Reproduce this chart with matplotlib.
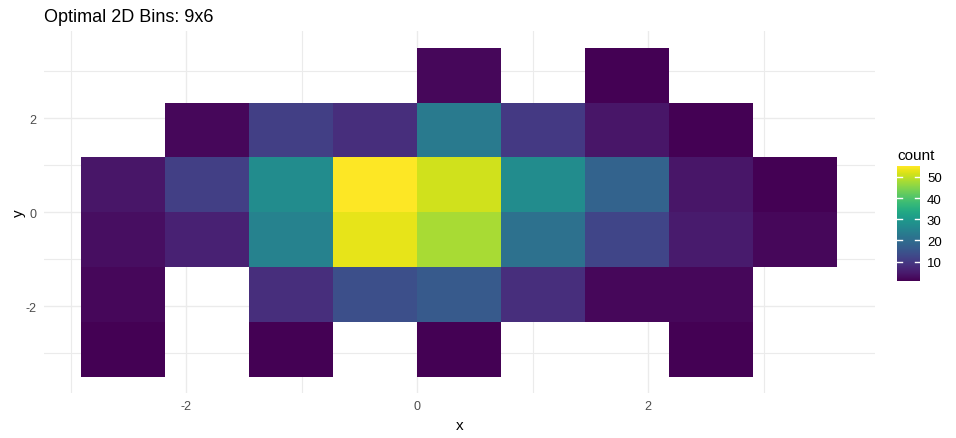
import numpy as np
import matplotlib
matplotlib.use("Agg")
import matplotlib.pyplot as plt

plt.rcParams['font.family'] = ['Liberation Sans', 'DejaVu Sans']
plt.rcParams['axes.unicode_minus'] = False

# bin edges (9 x 6 bins)
x_edges = [-2.909, -2.182, -1.455, -0.727, 0.0, 0.727, 1.455, 2.182, 2.909, 3.636]
y_edges = [-3.5, -2.333, -1.167, 0.0, 1.167, 2.333, 3.5]

# counts, rows from bottom (y) to top, columns left to right (x); 0 = empty
counts = [
    [1, 0, 1, 0, 1, 0, 0, 1, 0],
    [2, 0, 8, 14, 16, 8, 2, 2, 0],
    [3, 6, 25, 53, 48, 21, 12, 5, 2],
    [4, 11, 27, 55, 51, 27, 18, 4, 1],
    [0, 2, 11, 8, 23, 10, 4, 1, 0],
    [0, 0, 0, 0, 2, 0, 1, 0, 0],
]

cbar_ticks = [10, 20, 30, 40, 50]


def main():
    fig = plt.figure(figsize=(9.56, 4.39), dpi=100)
    ax = fig.add_axes([43.5 / 956, 1 - 394.3 / 439, (875 - 43.5) / 956, (394.3 - 32.3) / 439])

    z = np.ma.masked_equal(np.array(counts, dtype=float), 0)
    vmin, vmax = 1, 55
    mesh = ax.pcolormesh(x_edges, y_edges, z, cmap='viridis', vmin=vmin, vmax=vmax,
                         edgecolor='face', linewidth=0.0, zorder=2)

    xspan = x_edges[-1] - x_edges[0]
    yspan = y_edges[-1] - y_edges[0]
    ax.set_xlim(x_edges[0] - 0.05 * xspan, x_edges[-1] + 0.05 * xspan)
    ax.set_ylim(y_edges[0] - 0.05 * yspan, y_edges[-1] + 0.05 * yspan)

    ax.set_xticks([-2, 0, 2])
    ax.set_yticks([-2, 0, 2])
    ax.set_xticks([-3, -1, 1, 3], minor=True)
    ax.set_yticks([-3, -1, 1, 3], minor=True)
    ax.grid(True, which='major', color='#EBEBEB', linewidth=1.0, zorder=0)
    ax.grid(True, which='minor', color='#EBEBEB', linewidth=0.8, zorder=0)
    ax.set_axisbelow(True)
    ax.tick_params(which='both', length=0, labelsize=9, labelcolor='#4D4D4D', pad=5)
    for s in ax.spines.values():
        s.set_visible(False)

    ax.set_xlabel('x', fontsize=11, labelpad=4)
    ax.set_ylabel('y', fontsize=11, labelpad=0)
    fig.text(43.5 / 956, 1 - 22 / 439, 'Optimal 2D Bins: 9x6', fontsize=13, ha='left', va='baseline')

    # colour bar
    cax = fig.add_axes([897.3 / 956, 1 - 281.7 / 439, 22.7 / 956, 114.4 / 439])
    cb = fig.colorbar(mesh, cax=cax, ticks=cbar_ticks)
    cb.outline.set_visible(False)
    cax.tick_params(length=0, labelsize=9.5, labelcolor='black', pad=5)
    for t in cbar_ticks:
        cax.plot([0, 0.2], [t, t], color='white', linewidth=1, transform=cax.get_yaxis_transform())
        cax.plot([0.8, 1], [t, t], color='white', linewidth=1, transform=cax.get_yaxis_transform())
    fig.text(897.3 / 956, 1 - 160 / 439, 'count', fontsize=11, ha='left', va='baseline')

    fig.savefig('out.png', dpi=100)


if __name__ == "__main__":
    main()
